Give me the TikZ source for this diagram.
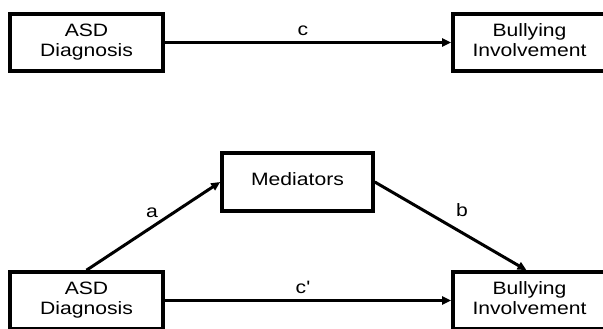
\documentclass[tikz,border=0pt]{standalone}
\usepackage{fontspec}
\setmainfont{Liberation Sans}
\usepackage{graphicx}
\usetikzlibrary{arrows.meta}
\newcommand{\boxtxt}[1]{\scalebox{1.18}[1]{\fontsize{17.9}{20}\selectfont\begin{tabular}{@{}c@{}}#1\end{tabular}}}
\newcommand{\lbltxt}[1]{\scalebox{1.18}[1]{\fontsize{17.9}{20}\selectfont #1}}
\begin{document}
\begin{tikzpicture}[x=1pt,y=1pt,
  boxnode/.style={draw=black,line width=3.6pt,fill=white,minimum width=153pt,minimum height=57pt,inner sep=0pt,align=center},
  medbox/.style={boxnode,minimum width=151pt,minimum height=58pt},
  conn/.style={line width=3pt,-{Triangle[length=9pt,width=8pt]}},
  lbl/.style={inner sep=0pt}]
\useasboundingbox (0,0) rectangle (603,329);
\fill[white] (0,0) rectangle (603,329);
% top model
\node[boxnode] (asd1) at (86.5,286.5) {\boxtxt{ASD\\Diagnosis}};
\node[boxnode] (bul1) at (529.5,286.5) {\boxtxt{Bullying\\Involvement}};
\draw[conn] (asd1.east) -- (bul1.west);
\node[lbl] (c) at (303,298) {\lbltxt{c}};
% bottom model
\node[medbox] (med) at (297.5,147) {\boxtxt{Mediators}};
\node[boxnode] (asd2) at (86.5,28.5) {\boxtxt{ASD\\Diagnosis}};
\node[boxnode] (bul2) at (529.5,28.5) {\boxtxt{Bullying\\Involvement}};
\draw[conn] (asd2.north) -- (med.west);
\draw[conn] (med.east) -- ([xshift=-3pt]bul2.north);
\draw[conn] (asd2.east) -- (bul2.west);
\node[lbl] (a) at (152,116) {\lbltxt{a}};
\node[lbl] (b) at (462,119) {\lbltxt{b}};
\node[lbl] (cp) at (303,42) {\lbltxt{c\textquotesingle}};
\end{tikzpicture}
\end{document}
